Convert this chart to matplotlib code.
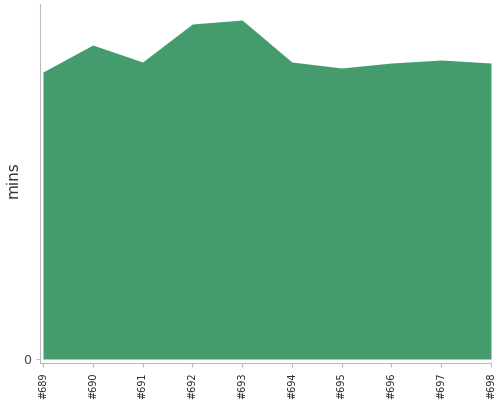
import matplotlib
matplotlib.use("Agg")
import matplotlib.pyplot as plt

builds = ["#689", "#690", "#691", "#692", "#693", "#694", "#695", "#696", "#697", "#698"]
mins = [28.7, 31.4, 29.7, 33.5, 33.9, 29.7, 29.1, 29.6, 29.9, 29.6]

fig = plt.figure(figsize=(5, 4), dpi=100)
ax = fig.add_axes([0.08, 0.0925, 0.902, 0.8975])

x = list(range(len(builds)))
ax.fill_between(x, 0, mins, color="#449c6c", linewidth=0)

ax.set_xlim(-0.06, len(builds) - 1)
ax.set_ylim(-0.4, 35.5)
ax.set_xticks(x)
ax.set_xticklabels(builds, rotation=90, fontsize=7)
ax.set_yticks([0])
ax.set_yticklabels(["0"], fontsize=9, color="#444444")
ax.set_ylabel("mins", fontsize=11, color="#333333")
ax.yaxis.set_label_coords(-0.043, 0.51)

for s in ["top", "right"]:
    ax.spines[s].set_visible(False)
for s in ["left", "bottom"]:
    ax.spines[s].set_color("#bbbbbb")
ax.tick_params(axis="both", colors="#bbbbbb", length=3, labelcolor="#222222")
ax.tick_params(axis="y", labelcolor="#444444")

fig.savefig("out.png")
